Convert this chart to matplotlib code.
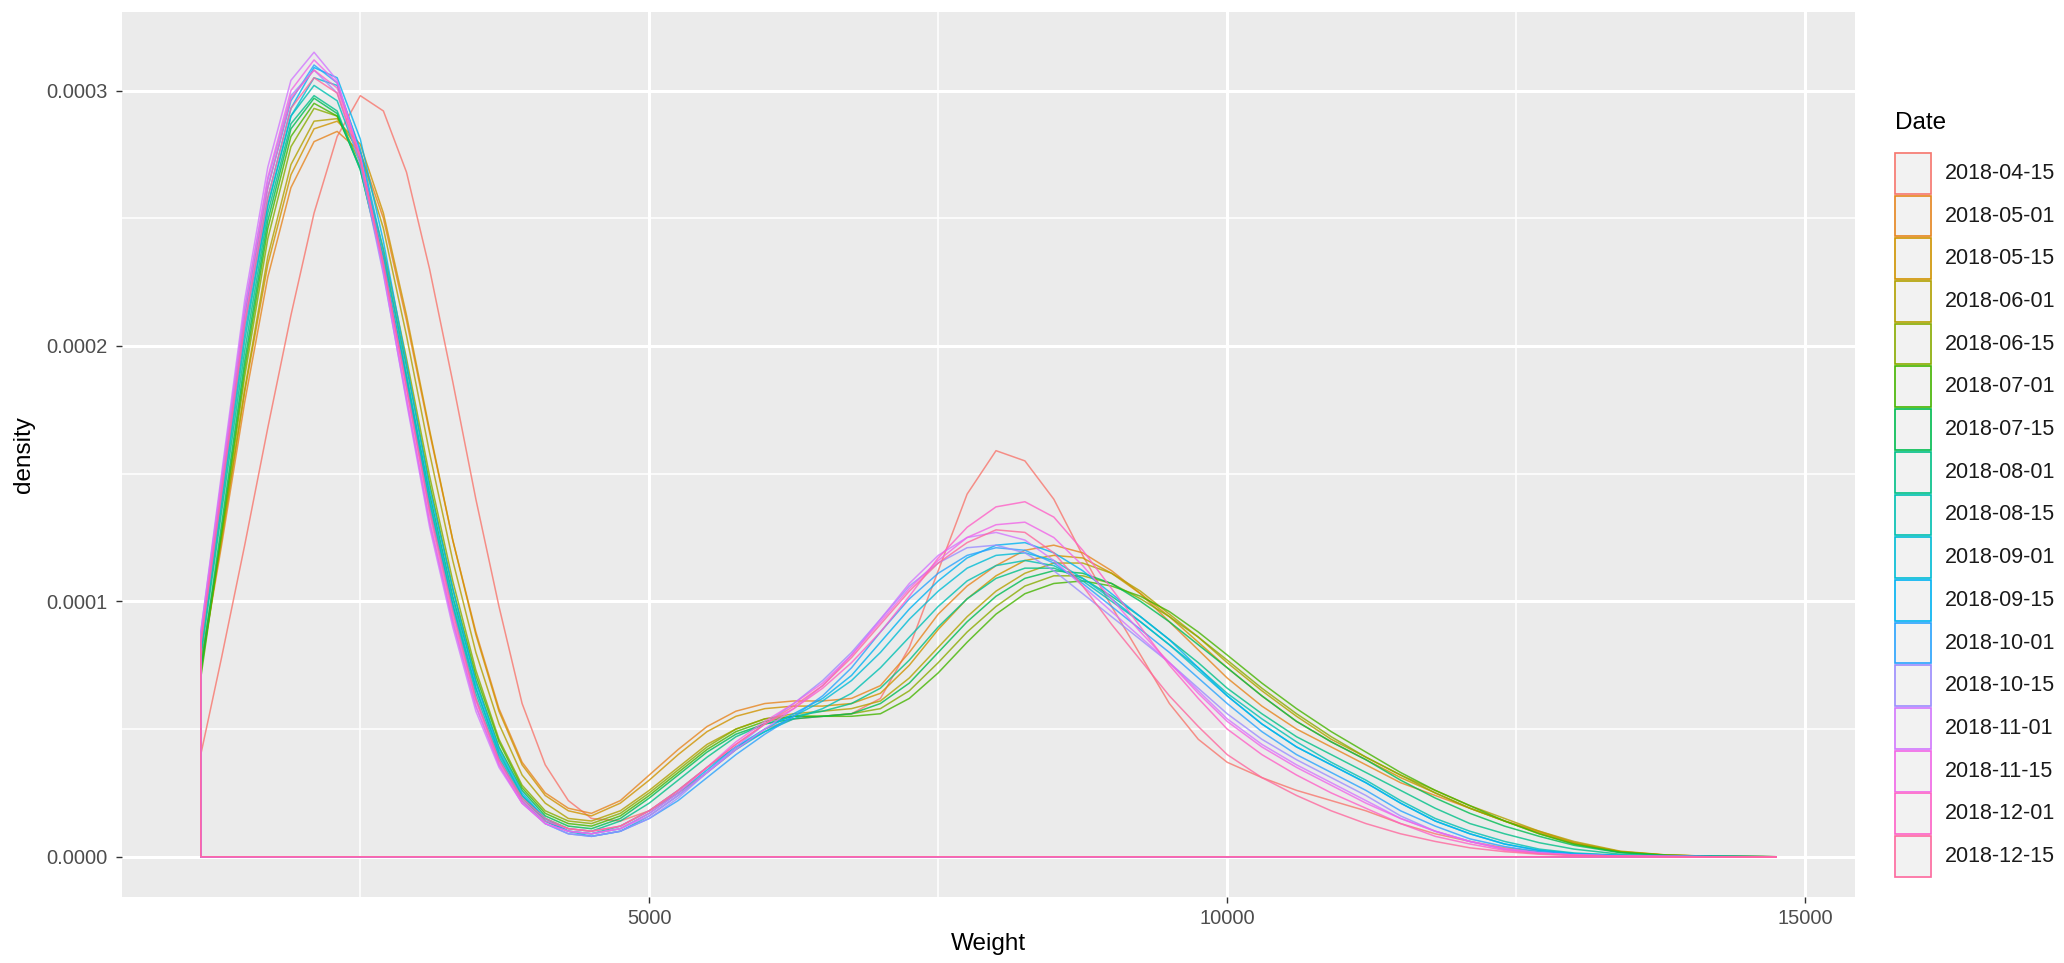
import numpy as np
import matplotlib
matplotlib.use("Agg")
import matplotlib.pyplot as plt
from matplotlib.patches import Rectangle
from matplotlib.ticker import MultipleLocator, FuncFormatter

plt.rcParams["font.family"] = ["Liberation Sans", "DejaVu Sans"]

dates = ["2018-04-15", "2018-05-01", "2018-05-15", "2018-06-01", "2018-06-15",
         "2018-07-01", "2018-07-15", "2018-08-01", "2018-08-15", "2018-09-01",
         "2018-09-15", "2018-10-01", "2018-10-15", "2018-11-01", "2018-11-15",
         "2018-12-01", "2018-12-15"]

weight = [1120, 1300, 1500, 1700, 1900, 2100, 2300, 2500, 2700, 2900,
          3100, 3300, 3500, 3700, 3900, 4100, 4300, 4500, 4750, 5000,
          5250, 5500, 5750, 6000, 6250, 6500, 6750, 7000, 7250, 7500,
          7750, 8000, 8250, 8500, 8750, 9000, 9250, 9500, 9750, 10000,
          10300, 10600, 10900, 11200, 11500, 11800, 12100, 12400, 12700, 13000,
          13400, 13800, 14200, 14750]

# density in units of 1e-4, one row per date
density_e4 = [
    [0.40, 0.78, 1.22, 1.68, 2.12, 2.52, 2.82, 2.98, 2.92, 2.68, 2.30, 1.86, 1.40, 0.98, 0.60, 0.36, 0.22, 0.15,
     0.14, 0.18, 0.25, 0.33, 0.42, 0.50, 0.54, 0.55, 0.56, 0.62, 0.82, 1.12, 1.42, 1.59, 1.55, 1.40, 1.18, 0.98, 0.79, 0.60,
     0.46, 0.37, 0.31, 0.26, 0.22, 0.18, 0.13, 0.09, 0.06, 0.035, 0.02, 0.01, 0.004, 0.002, 0.001, 0.0],
    [0.74, 1.22, 1.78, 2.27, 2.62, 2.80, 2.84, 2.76, 2.50, 2.10, 1.66, 1.24, 0.88, 0.58, 0.37, 0.25, 0.19, 0.17,
     0.22, 0.32, 0.42, 0.51, 0.57, 0.60, 0.61, 0.61, 0.62, 0.67, 0.80, 0.95, 1.06, 1.14, 1.20, 1.22, 1.19, 1.12, 1.03, 0.92,
     0.81, 0.70, 0.59, 0.50, 0.43, 0.36, 0.29, 0.24, 0.19, 0.14, 0.10, 0.055, 0.02, 0.006, 0.002, 0.0],
    [0.76, 1.25, 1.82, 2.32, 2.67, 2.85, 2.88, 2.79, 2.52, 2.12, 1.67, 1.24, 0.87, 0.57, 0.36, 0.24, 0.18, 0.16,
     0.21, 0.30, 0.40, 0.49, 0.55, 0.58, 0.59, 0.59, 0.60, 0.64, 0.75, 0.89, 1.01, 1.10, 1.16, 1.18, 1.17, 1.11, 1.03, 0.94,
     0.84, 0.74, 0.63, 0.53, 0.45, 0.38, 0.31, 0.25, 0.19, 0.14, 0.095, 0.055, 0.02, 0.007, 0.002, 0.0],
    [0.74, 1.24, 1.83, 2.35, 2.71, 2.88, 2.89, 2.76, 2.46, 2.04, 1.58, 1.16, 0.80, 0.52, 0.32, 0.21, 0.15, 0.14,
     0.18, 0.26, 0.35, 0.44, 0.50, 0.54, 0.56, 0.57, 0.58, 0.61, 0.70, 0.82, 0.94, 1.04, 1.11, 1.15, 1.15, 1.11, 1.04, 0.95,
     0.86, 0.76, 0.65, 0.55, 0.46, 0.39, 0.32, 0.26, 0.20, 0.15, 0.10, 0.06, 0.022, 0.007, 0.002, 0.0],
    [0.72, 1.26, 1.88, 2.42, 2.78, 2.93, 2.90, 2.72, 2.38, 1.95, 1.49, 1.08, 0.73, 0.46, 0.28, 0.18, 0.14, 0.13,
     0.17, 0.25, 0.34, 0.43, 0.50, 0.54, 0.55, 0.55, 0.56, 0.58, 0.65, 0.76, 0.88, 0.98, 1.06, 1.10, 1.10, 1.07, 1.01, 0.94,
     0.86, 0.77, 0.66, 0.56, 0.47, 0.39, 0.32, 0.25, 0.19, 0.14, 0.09, 0.05, 0.018, 0.006, 0.002, 0.0],
    [0.70, 1.27, 1.91, 2.46, 2.82, 2.95, 2.90, 2.70, 2.35, 1.92, 1.46, 1.05, 0.71, 0.45, 0.27, 0.17, 0.13, 0.12,
     0.16, 0.24, 0.33, 0.42, 0.49, 0.53, 0.55, 0.55, 0.55, 0.56, 0.62, 0.72, 0.84, 0.95, 1.03, 1.07, 1.08, 1.06, 1.02, 0.96,
     0.88, 0.79, 0.68, 0.58, 0.49, 0.41, 0.33, 0.26, 0.20, 0.14, 0.09, 0.05, 0.018, 0.006, 0.002, 0.0],
    [0.73, 1.30, 1.94, 2.49, 2.85, 2.97, 2.91, 2.69, 2.32, 1.88, 1.42, 1.02, 0.69, 0.43, 0.26, 0.16, 0.12, 0.11,
     0.15, 0.23, 0.32, 0.41, 0.48, 0.52, 0.54, 0.55, 0.56, 0.60, 0.68, 0.80, 0.92, 1.02, 1.09, 1.12, 1.11, 1.07, 1.00, 0.92,
     0.83, 0.74, 0.63, 0.53, 0.45, 0.38, 0.30, 0.23, 0.17, 0.12, 0.08, 0.045, 0.016, 0.005, 0.002, 0.0],
    [0.78, 1.35, 1.98, 2.52, 2.87, 2.98, 2.92, 2.69, 2.31, 1.86, 1.39, 0.99, 0.66, 0.41, 0.24, 0.15, 0.11, 0.10,
     0.14, 0.21, 0.30, 0.39, 0.47, 0.52, 0.55, 0.57, 0.60, 0.66, 0.77, 0.90, 1.01, 1.09, 1.13, 1.13, 1.09, 1.02, 0.94, 0.85,
     0.76, 0.66, 0.56, 0.47, 0.40, 0.33, 0.26, 0.19, 0.13, 0.09, 0.055, 0.03, 0.01, 0.004, 0.001, 0.0],
    [0.80, 1.38, 2.02, 2.55, 2.90, 3.02, 2.96, 2.72, 2.32, 1.85, 1.37, 0.98, 0.64, 0.39, 0.23, 0.14, 0.10, 0.09,
     0.12, 0.18, 0.26, 0.35, 0.43, 0.49, 0.54, 0.58, 0.64, 0.74, 0.86, 0.98, 1.08, 1.14, 1.16, 1.14, 1.08, 1.00, 0.92, 0.83,
     0.74, 0.64, 0.54, 0.45, 0.37, 0.30, 0.22, 0.15, 0.10, 0.06, 0.03, 0.015, 0.006, 0.002, 0.001, 0.0],
    [0.82, 1.40, 2.05, 2.55, 2.90, 3.05, 3.02, 2.77, 2.37, 1.89, 1.40, 1.01, 0.66, 0.40, 0.24, 0.14, 0.10, 0.08,
     0.10, 0.16, 0.24, 0.33, 0.42, 0.49, 0.55, 0.61, 0.69, 0.80, 0.93, 1.04, 1.13, 1.18, 1.19, 1.16, 1.09, 1.01, 0.92, 0.83,
     0.73, 0.63, 0.52, 0.43, 0.36, 0.29, 0.21, 0.14, 0.09, 0.05, 0.025, 0.012, 0.005, 0.002, 0.001, 0.0],
    [0.85, 1.42, 2.08, 2.58, 2.93, 3.09, 3.05, 2.81, 2.41, 1.93, 1.44, 1.05, 0.68, 0.42, 0.25, 0.15, 0.10, 0.09,
     0.11, 0.17, 0.25, 0.34, 0.43, 0.50, 0.56, 0.62, 0.71, 0.84, 0.97, 1.08, 1.17, 1.22, 1.23, 1.19, 1.12, 1.03, 0.94, 0.85,
     0.74, 0.63, 0.52, 0.43, 0.36, 0.29, 0.21, 0.14, 0.09, 0.05, 0.025, 0.012, 0.005, 0.002, 0.001, 0.0],
    [0.86, 1.45, 2.12, 2.62, 2.96, 3.10, 3.03, 2.76, 2.34, 1.85, 1.36, 0.97, 0.62, 0.38, 0.22, 0.13, 0.09, 0.08,
     0.10, 0.15, 0.22, 0.31, 0.40, 0.48, 0.55, 0.63, 0.74, 0.88, 1.01, 1.11, 1.18, 1.21, 1.20, 1.15, 1.07, 0.98, 0.89, 0.80,
     0.70, 0.60, 0.49, 0.40, 0.33, 0.26, 0.18, 0.12, 0.07, 0.04, 0.02, 0.01, 0.004, 0.002, 0.001, 0.0],
    [0.88, 1.48, 2.15, 2.65, 2.98, 3.08, 2.99, 2.71, 2.28, 1.79, 1.31, 0.92, 0.59, 0.36, 0.21, 0.13, 0.09, 0.08,
     0.10, 0.15, 0.23, 0.33, 0.43, 0.52, 0.60, 0.69, 0.80, 0.93, 1.06, 1.15, 1.21, 1.22, 1.19, 1.12, 1.03, 0.94, 0.85, 0.76,
     0.66, 0.56, 0.46, 0.38, 0.31, 0.24, 0.16, 0.10, 0.06, 0.03, 0.015, 0.007, 0.003, 0.001, 0.0, 0.0],
    [0.88, 1.50, 2.18, 2.70, 3.04, 3.15, 3.04, 2.74, 2.29, 1.78, 1.29, 0.90, 0.57, 0.35, 0.21, 0.13, 0.10, 0.09,
     0.11, 0.16, 0.24, 0.33, 0.42, 0.50, 0.58, 0.67, 0.79, 0.93, 1.07, 1.18, 1.25, 1.27, 1.24, 1.16, 1.06, 0.96, 0.86, 0.76,
     0.65, 0.54, 0.44, 0.36, 0.29, 0.22, 0.15, 0.10, 0.06, 0.03, 0.015, 0.007, 0.003, 0.001, 0.0, 0.0],
    [0.86, 1.47, 2.14, 2.66, 3.00, 3.12, 3.03, 2.74, 2.30, 1.80, 1.31, 0.92, 0.59, 0.36, 0.21, 0.13, 0.10, 0.09,
     0.11, 0.17, 0.25, 0.35, 0.45, 0.53, 0.60, 0.68, 0.79, 0.92, 1.05, 1.16, 1.25, 1.30, 1.31, 1.25, 1.14, 1.01, 0.88, 0.76,
     0.64, 0.53, 0.43, 0.35, 0.28, 0.21, 0.15, 0.10, 0.06, 0.03, 0.015, 0.007, 0.003, 0.001, 0.0, 0.0],
    [0.84, 1.44, 2.10, 2.62, 2.97, 3.08, 3.01, 2.74, 2.32, 1.83, 1.34, 0.94, 0.61, 0.37, 0.22, 0.14, 0.11, 0.10,
     0.12, 0.18, 0.26, 0.35, 0.44, 0.52, 0.58, 0.66, 0.76, 0.88, 1.02, 1.17, 1.29, 1.37, 1.39, 1.33, 1.20, 1.05, 0.90, 0.75,
     0.62, 0.50, 0.40, 0.32, 0.25, 0.19, 0.13, 0.08, 0.05, 0.025, 0.012, 0.006, 0.003, 0.001, 0.0, 0.0],
    [0.83, 1.42, 2.08, 2.58, 2.93, 3.05, 2.99, 2.73, 2.32, 1.84, 1.36, 0.96, 0.62, 0.38, 0.23, 0.15, 0.11, 0.10,
     0.12, 0.18, 0.26, 0.35, 0.44, 0.52, 0.59, 0.67, 0.78, 0.91, 1.04, 1.15, 1.23, 1.28, 1.27, 1.19, 1.06, 0.91, 0.77, 0.63,
     0.51, 0.40, 0.31, 0.24, 0.18, 0.13, 0.09, 0.06, 0.035, 0.02, 0.01, 0.005, 0.002, 0.001, 0.0, 0.0],
]


def hue_pal(n, l=65, c=100):
    # ggplot2 default discrete palette (hcl hues starting at 15 degrees)
    xn, yn, zn = 95.047, 100.0, 108.883
    den = xn + 15 * yn + 3 * zn
    un, vn = 4 * xn / den, 9 * yn / den
    m = np.array([[3.240479, -1.537150, -0.498535],
                  [-0.969256, 1.875992, 0.041556],
                  [0.055648, -0.204043, 1.057311]])
    cols = []
    for h in 15 + 360 * np.arange(n) / n:
        hr = np.deg2rad(h)
        u, v = c * np.cos(hr), c * np.sin(hr)
        Y = yn * ((l + 16) / 116) ** 3
        up = u / (13 * l) + un
        vp = v / (13 * l) + vn
        X = Y * 9 * up / (4 * vp)
        Z = Y * (12 - 3 * up - 20 * vp) / (4 * vp)
        rgb = m @ np.array([X, Y, Z]) / 100
        rgb = np.clip(rgb, 0, None)
        rgb = np.where(rgb <= 0.0031308, 12.92 * rgb, 1.055 * rgb ** (1 / 2.4) - 0.055)
        cols.append(tuple(np.clip(rgb, 0, 1)))
    return cols


colors = hue_pal(len(dates))

W, H = 2064, 963
fig = plt.figure(figsize=(W / 100, H / 100), dpi=100)
ax = fig.add_axes([122 / W, 1 - 897 / H, (1855 - 122) / W, (897 - 12) / H])
ax.set_facecolor("#EBEBEB")
for s in ax.spines.values():
    s.set_visible(False)

x = np.array(weight, dtype=float)
for date, col, dens in zip(dates, colors, density_e4):
    y = np.array(dens) * 1e-4
    ax.fill(np.r_[x[0], x, x[-1]], np.r_[0, y, 0], facecolor="none",
            edgecolor=col, lw=1.1, alpha=0.8, joinstyle="round")

span = x.max() - x.min()
ax.set_xlim(x.min() - 0.05 * span, x.max() + 0.05 * span)
ymax = max(max(d) for d in density_e4) * 1e-4
ax.set_ylim(-0.05 * ymax, 1.05 * ymax)

ax.xaxis.set_major_locator(MultipleLocator(5000))
ax.xaxis.set_minor_locator(MultipleLocator(2500))
ax.yaxis.set_major_locator(MultipleLocator(1e-4))
ax.yaxis.set_minor_locator(MultipleLocator(0.5e-4))
ax.yaxis.set_major_formatter(FuncFormatter(lambda v, _: f"{round(v, 8) + 0.0:.4f}"))
ax.set_axisbelow(True)
ax.grid(which="major", color="white", lw=2.2)
ax.grid(which="minor", color="white", lw=1.1)
ax.tick_params(which="major", length=4.5, width=1.0, color="#333333",
               labelcolor="#4D4D4D", labelsize=14.5, pad=4)
ax.tick_params(axis="y", which="major", pad=6)
ax.tick_params(which="minor", length=0)
ax.set_xlabel("Weight", fontsize=17.5, labelpad=4)
ax.set_ylabel("density", fontsize=17.5, labelpad=8)

# legend drawn by hand in pixel coordinates, ggplot style keys
lax = fig.add_axes([0, 0, 1, 1])
lax.set_xlim(0, W)
lax.set_ylim(H, 0)
lax.axis("off")
lax.text(1895, 123, "Date", fontsize=17.5, ha="left", va="center")
key_top, key_h, key_x, key_w = 152, 42.7, 1894, 38
for i, (date, col) in enumerate(zip(dates, colors)):
    top = key_top + i * key_h
    lax.add_patch(Rectangle((key_x, top), key_w, key_h, facecolor="#F2F2F2", edgecolor="none"))
    lax.add_patch(Rectangle((key_x + 1, top + 1), key_w - 2, key_h - 2, facecolor="none",
                            edgecolor=col, lw=1.2))
    lax.text(1945, top + key_h / 2, date, fontsize=15.5, ha="left", va="center", color="#1A1A1A")

fig.savefig("out.png", dpi=100)
